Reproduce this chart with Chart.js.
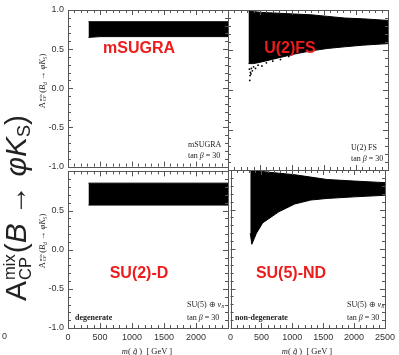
<!DOCTYPE html>
<html>
<head>
<meta charset="utf-8">
<script src="https://cdn.jsdelivr.net/npm/chart.js@4.4.0/dist/chart.umd.min.js"></script>
<style>
body{margin:0;background:#fff;}
#wrap{position:relative;width:399px;height:355px;overflow:hidden;}
canvas{position:absolute;}
.t{position:absolute;white-space:nowrap;line-height:1;z-index:5;font-family:"Liberation Serif","Times New Roman",serif;color:#222;}
.ann{font-size:8px;transform:translateY(-50%);}
.bold{font-weight:bold;}
.red{font-family:"Liberation Sans",Arial,sans-serif;font-weight:bold;font-size:16px;color:#ee1c1c;transform:translate(-50%,-50%);}
.rot{transform:translate(-50%,-50%) rotate(-90deg);}
.st{display:inline-flex;flex-direction:column;vertical-align:middle;line-height:0.95;font-size:0.55em;margin:0 1px;}
sub{font-size:0.6em;vertical-align:-0.25em;line-height:0;}
#bigY{font-family:"Liberation Sans",Arial,sans-serif;font-size:30px;color:#222;}
.small{font-size:8.5px;}
.xt{font-size:8.5px;transform:translate(-50%,-50%);}
</style>
</head>
<body>
<div id="wrap">
  <canvas id="tl" width="232" height="176" style="left:0;top:0"></canvas>
  <canvas id="tr" width="175" height="176" style="left:224px;top:0"></canvas>
  <canvas id="bl" width="232" height="193" style="left:0;top:162px"></canvas>
  <canvas id="br" width="175" height="193" style="left:224px;top:162px"></canvas>

  <div id="bigY" class="t rot" style="left:17px;top:208px">A<span class="st"><span>mix</span><span>CP</span></span>(<i>B</i> → <i>φK</i><sub>S</sub>)</div>
  <div class="t rot small" style="left:43px;top:81px">A<span class="st"><span>mix</span><span>CP</span></span>(<i>B<sub>d</sub></i> → <i>φK<sub>S</sub></i>)</div>
  <div class="t rot small" style="left:43px;top:241px">A<span class="st"><span>mix</span><span>CP</span></span>(<i>B<sub>d</sub></i> → <i>φK<sub>S</sub></i>)</div>

  <div class="t red" style="left:139px;top:48px">mSUGRA</div>
  <div class="t red" style="left:290px;top:48px">U(2)FS</div>
  <div class="t red" style="left:139px;top:273px">SU(2)-D</div>
  <div class="t red" style="left:291px;top:273px">SU(5)-ND</div>

  <div class="t ann" style="left:188px;top:145px">mSUGRA</div>
  <div class="t ann" style="left:188px;top:156px">tan <i>β</i> = 30</div>
  <div class="t ann" style="left:351px;top:148px">U(2) FS</div>
  <div class="t ann" style="left:351px;top:159px">tan <i>β</i> = 30</div>
  <div class="t ann" style="left:187px;top:305px">SU(5) ⊕ <i>ν</i><sub><i>R</i></sub></div>
  <div class="t ann" style="left:187px;top:318px">tan <i>β</i> = 30</div>
  <div class="t ann bold" style="left:75px;top:318px">degenerate</div>
  <div class="t ann" style="left:347px;top:305px">SU(5) ⊕ <i>ν</i><sub><i>R</i></sub></div>
  <div class="t ann" style="left:347px;top:318px">tan <i>β</i> = 30</div>
  <div class="t ann bold" style="left:235px;top:318px">non-degenerate</div>

  <div class="t xt" style="left:147px;top:351px"><i>m</i>( <i>g&#771;</i> )&nbsp; [ GeV ]</div>
  <div class="t xt" style="left:307px;top:351px"><i>m</i>( <i>g&#771;</i> )&nbsp; [ GeV ]</div>
  <div class="t" style="left:2px;top:332px;font-family:'Liberation Sans',Arial,sans-serif;font-size:9px;color:#333">0</div>
</div>
<script>
// gluino mass [GeV] and edges of the scanned A_CP^mix region
var msugraMass  = [320, 500, 1000, 1500, 2000, 2500];
var msugraUpper = [0.85, 0.85, 0.85, 0.85, 0.85, 0.85];
var msugraLower = [0.65, 0.66, 0.66, 0.66, 0.66, 0.66];

var u2Mass  = [320, 400, 520, 780, 1040, 1300, 1560, 1820, 2100, 2500];
var u2Upper = [0.99, 0.98, 0.97, 0.96, 0.95, 0.94, 0.92, 0.90, 0.89, 0.87];
var u2Lower = [0.33, 0.33, 0.35, 0.40, 0.45, 0.49, 0.52, 0.54, 0.56, 0.58];
// stray points below the U(2) band
var u2StrayMass = [335, 340, 345, 350, 358, 365, 380, 400, 430, 470, 530, 600, 700, 820, 950];
var u2StrayVal  = [0.26, 0.12, 0.18, 0.22, 0.20, 0.27, 0.24, 0.29, 0.27, 0.31, 0.30, 0.34, 0.36, 0.38, 0.42];

var su2Mass  = [320, 500, 1000, 1500, 2000, 2500];
var su2Upper = [0.85, 0.85, 0.85, 0.85, 0.85, 0.85];
var su2Lower = [0.57, 0.57, 0.57, 0.57, 0.57, 0.57];

var su5Mass  = [320, 345, 420, 520, 780, 1040, 1300, 1560, 2000, 2500];
var su5Upper = [1.00, 1.00, 0.99, 0.98, 0.96, 0.94, 0.91, 0.88, 0.86, 0.84];
var su5Lower = [0.20, 0.06, 0.20, 0.33, 0.47, 0.57, 0.62, 0.64, 0.66, 0.68];

var massTicks = [0, 500, 1000, 1500, 2000, 2500];
var acpTicks  = [-1.0, -0.5, 0.0, 0.5, 1.0];

var frameTicks = {
    id: 'frameTicks',
    afterDatasetsDraw: function(chart){
        var ctx = chart.ctx, a = chart.chartArea;
        var x = chart.scales.x, y = chart.scales.y;
        ctx.save();
        ctx.strokeStyle = '#555';
        ctx.lineWidth = 1;
        ctx.beginPath();
        for (var m = 0; m <= 2500; m += 100){
            var px = Math.round(x.getPixelForValue(m)) + 0.5;
            var len = (m % 500 === 0) ? 5 : 3;
            ctx.moveTo(px, a.top); ctx.lineTo(px, a.top + len);
            ctx.moveTo(px, a.bottom); ctx.lineTo(px, a.bottom - len);
        }
        for (var i = -10; i <= 10; i++){
            var py = Math.round(y.getPixelForValue(i / 10)) + 0.5;
            var l2 = (i % 5 === 0) ? 5 : 3;
            ctx.moveTo(a.left, py); ctx.lineTo(a.left + l2, py);
            ctx.moveTo(a.right, py); ctx.lineTo(a.right - l2, py);
        }
        ctx.stroke();
        ctx.strokeRect(Math.round(a.left) + 0.5, Math.round(a.top) + 0.5,
                       Math.round(a.right - a.left), Math.round(a.bottom - a.top));
        ctx.restore();
    }
};

function pts(xs, ys){
    return xs.map(function(v, i){ return {x: v, y: ys[i]}; });
}

function panel(id, mass, upper, lower, stray, o){
    var datasets = [
        {data: pts(mass, upper), borderColor: '#000', borderWidth: 1, pointRadius: 0, fill: false},
        {data: pts(mass, lower), borderColor: '#000', borderWidth: 1, pointRadius: 0, fill: '-1', backgroundColor: '#000'}
    ];
    if (stray){
        datasets.push({data: pts(stray[0], stray[1]), showLine: false, pointRadius: 0.9,
                       pointBackgroundColor: '#000', pointBorderWidth: 0});
    }
    var tickFont = {family: 'Liberation Sans', size: 9};
    return new Chart(document.getElementById(id), {
        type: 'line',
        data: {datasets: datasets},
        plugins: [frameTicks],
        options: {
            responsive: false,
            animation: false,
            layout: {padding: o.pad},
            plugins: {legend: {display: false}, tooltip: {enabled: false}},
            scales: {
                x: {
                    type: 'linear', min: 0, max: 2500, display: o.showX,
                    grid: {display: false, drawTicks: false}, border: {display: false},
                    afterBuildTicks: function(s){ s.ticks = massTicks.map(function(v){ return {value: v}; }); },
                    ticks: {autoSkip: false, maxRotation: 0, padding: 4, font: tickFont, color: '#333',
                            callback: function(v){ return (o.hideLastX && v === 2500) ? '' : String(v); }},
                    afterFit: function(s){ if (o.showX) s.height = o.xH; }
                },
                y: {
                    type: 'linear', min: -1, max: 1, display: o.showY,
                    grid: {display: false, drawTicks: false}, border: {display: false},
                    afterBuildTicks: function(s){ s.ticks = acpTicks.map(function(v){ return {value: v}; }); },
                    ticks: {padding: 4, font: tickFont, color: '#333',
                            callback: function(v){ return (o.hideTopY && v === 1) ? '' : v.toFixed(1); }},
                    afterFit: function(s){ if (o.showY) s.width = 68; }
                }
            }
        }
    });
}

panel('tl', msugraMass, msugraUpper, msugraLower, null,
      {pad: {top: 10, bottom: 6, left: 0, right: 4}, showX: false, showY: true});
panel('tr', u2Mass, u2Upper, u2Lower, [u2StrayMass, u2StrayVal],
      {pad: {top: 10, bottom: 6, left: 4, right: 11}, showX: false, showY: false});
panel('bl', su2Mass, su2Upper, su2Lower, null,
      {pad: {top: 8, bottom: 0, left: 0, right: 4}, showX: true, showY: true, xH: 27, hideLastX: true, hideTopY: true});
panel('br', su5Mass, su5Upper, su5Lower, null,
      {pad: {top: 8, bottom: 0, left: 4, right: 11}, showX: true, showY: false, xH: 27});
</script>
</body>
</html>
